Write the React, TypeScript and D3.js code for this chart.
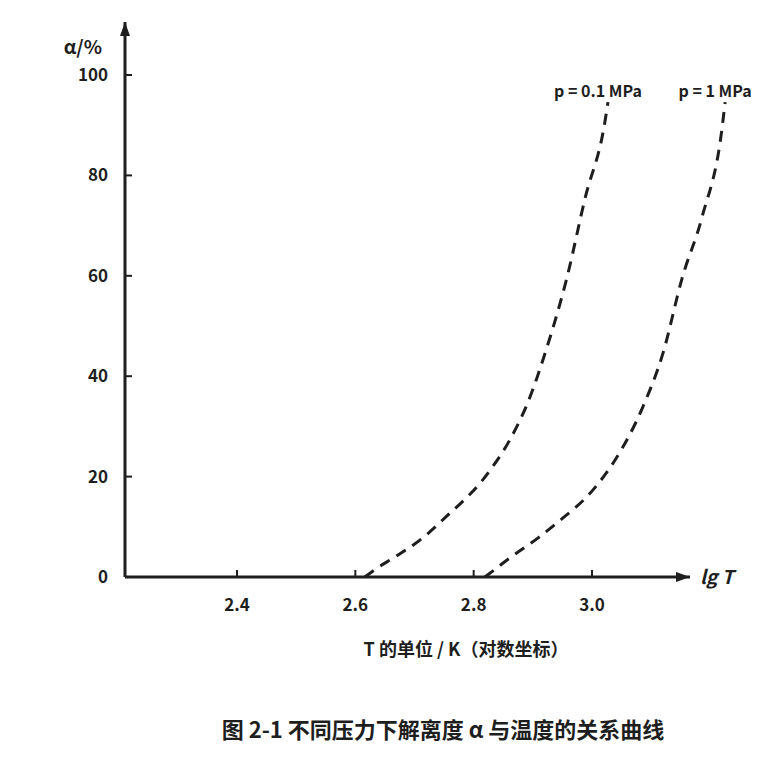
import { line, curveMonotoneX, scaleLinear } from 'd3';

const xTicks = [2.4, 2.6, 2.8, 3.0];
const yTicks = [0, 20, 40, 60, 80, 100];

const lowPressureT = [2.616, 2.637, 2.667, 2.714, 2.748, 2.828, 2.861, 2.892, 2.924, 2.958, 2.988, 3.022, 3.027];
const lowPressureAlpha = [0, 1.8, 4.0, 7.8, 11.4, 21.3, 27.3, 34.9, 45.8, 59.8, 75.3, 90.8, 94.6];

const highPressureT = [2.819, 2.839, 2.861, 2.909, 2.941, 3.005, 3.039, 3.086, 3.12, 3.152, 3.186, 3.22, 3.225];
const highPressureAlpha = [0, 1.8, 3.8, 7.8, 10.8, 17.8, 23.3, 33.9, 44.6, 59.4, 71.7, 89.6, 94.6];

const seriesLabels = ['p = 0.1 MPa', 'p = 1 MPa'];

const width = 782;
const height = 762;
const origin = { x: 125, y: 577 };
const axisEnd = { x: 690, y: 22 };

type Pt = { t: number; a: number };

export default function App() {
  const x = scaleLinear().domain([2.4, 3.0]).range([237, 592]);
  const y = scaleLinear().domain([0, 100]).range([origin.y, 75]);

  const toPts = (ts: number[], as: number[]): Pt[] => ts.map((t, i) => ({ t, a: as[i] }));
  const series = [toPts(lowPressureT, lowPressureAlpha), toPts(highPressureT, highPressureAlpha)];

  const path = line<Pt>()
    .x(p => x(p.t))
    .y(p => y(p.a))
    .curve(curveMonotoneX);

  const ink = '#1e1e1e';
  const font = '"Noto Sans CJK SC", "Noto Sans", sans-serif';

  return (
    <svg width={width} height={height} style={{ position: 'absolute', left: 0, top: 0, background: '#fff' }} fontFamily={font}>
      {/* axes */}
      <line x1={origin.x} y1={origin.y} x2={origin.x} y2={axisEnd.y} stroke={ink} strokeWidth={3} />
      <path d={`M${origin.x - 5},${axisEnd.y + 14} L${origin.x},${axisEnd.y} L${origin.x + 5},${axisEnd.y + 14} Z`} fill={ink} />
      <line x1={origin.x} y1={origin.y} x2={axisEnd.x} y2={origin.y} stroke={ink} strokeWidth={3} />
      <path d={`M${axisEnd.x - 14},${origin.y - 5} L${axisEnd.x},${origin.y} L${axisEnd.x - 14},${origin.y + 5} Z`} fill={ink} />
      <text x={700} y={origin.y + 7} fontSize={19} fill={ink} fontStyle="italic" fontWeight={600}>lg T</text>
      <text x={102} y={54} fontSize={19} fill={ink} textAnchor="end" fontWeight={600}>α/%</text>

      {yTicks.map(t => (
        <g key={t}>
          <line x1={origin.x} x2={origin.x + 7} y1={y(t)} y2={y(t)} stroke={ink} strokeWidth={2} />
          <text x={108} y={y(t) + 6} fontSize={17} fill={ink} textAnchor="end" fontWeight={600}>{t}</text>
        </g>
      ))}

      {xTicks.map(t => (
        <g key={t}>
          <line x1={x(t)} x2={x(t)} y1={origin.y} y2={origin.y - 7} stroke={ink} strokeWidth={2} />
          <text x={x(t)} y={origin.y + 34} fontSize={17} fill={ink} textAnchor="middle" fontWeight={600}>{t.toFixed(1)}</text>
        </g>
      ))}

      {series.map((s, i) => (
        <path key={i} d={path(s) ?? ''} fill="none" stroke={ink} strokeWidth={3} strokeDasharray="11 8" />
      ))}

      {series.map((s, i) => {
        const last = s[s.length - 1];
        return (
          <text key={i} x={x(last.t) - 10} y={97} fontSize={16} fill={ink} textAnchor="middle" fontWeight={600}>{seriesLabels[i]}</text>
        );
      })}

      <text x={466} y={656} fontSize={18} fill={ink} textAnchor="middle" fontWeight={600}>T 的单位 / K（对数坐标）</text>
      <text x={443} y={738} fontSize={22} fill={ink} textAnchor="middle" fontWeight="bold">图 2-1  不同压力下解离度 α 与温度的关系曲线</text>
    </svg>
  );
}
